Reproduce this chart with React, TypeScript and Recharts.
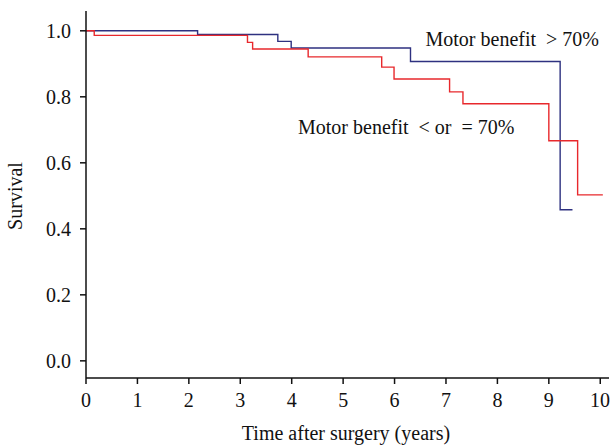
import { LineChart, Line, XAxis, YAxis, Customized } from "recharts";

// survival steps (time in years, survival)
const highTimes = [0, 2.17, 3.73, 3.99, 6.31, 9.22, 9.46];
const highSurv = [1.0, 0.989, 0.968, 0.948, 0.907, 0.458, 0.458];

const lowTimes = [0, 0.16, 3.14, 3.24, 4.32, 5.75, 5.99, 7.07, 7.33, 9.0, 9.56, 10.05];
const lowSurv = [1.0, 0.986, 0.965, 0.945, 0.921, 0.89, 0.854, 0.815, 0.779, 0.667, 0.503, 0.503];

const xTicks = [0, 1, 2, 3, 4, 5, 6, 7, 8, 9, 10];
const yTicks = [0, 0.2, 0.4, 0.6, 0.8, 1.0];

const highData = highTimes.map((t, i) => ({ t, s: highSurv[i] }));
const lowData = lowTimes.map((t, i) => ({ t, s: lowSurv[i] }));

const FONT = "'Liberation Serif', 'DejaVu Serif', serif";
const BLUE = "#2e3180";
const RED = "#e8282c";

const Notes = () => (
  <g fontFamily={FONT} fontSize={20} fill="#111">
    <text x={599} y={46} textAnchor="end">
      Motor benefit {"\u00a0"}&gt; 70%
    </text>
    <text x={298} y={134}>
      Motor benefit {"\u00a0"}&lt; or {"\u00a0"}= 70%
    </text>
    <text x={22} y={196} textAnchor="middle" transform="rotate(-90 22 196)">
      Survival
    </text>
    <text x={346} y={440} textAnchor="middle">
      Time after surgery (years)
    </text>
  </g>
);

export default function App() {
  return (
    <div style={{ position: "absolute", left: 0, top: 0, background: "#fff" }}>
      <LineChart
        width={610}
        height={446}
        margin={{ top: 11, right: 1, bottom: 0, left: 0 }}
      >
        <XAxis
          xAxisId="b"
          type="number"
          dataKey="t"
          domain={[0, 10.17]}
          ticks={xTicks}
          allowDataOverflow
          stroke="#111"
          strokeWidth={1.5}
          tickSize={6}
          tickMargin={9}
          tick={{ fill: "#111", fontFamily: FONT, fontSize: 20 }}
          height={68}
        />
        <XAxis
          xAxisId="t"
          orientation="top"
          type="number"
          dataKey="t"
          domain={[0, 10.17]}
          tick={false}
          tickLine={false}
          stroke="#111"
          strokeWidth={1.5}
          height={0}
        />
        <YAxis
          yAxisId="l"
          type="number"
          domain={[-0.052, 1.06]}
          ticks={yTicks}
          allowDataOverflow
          stroke="#111"
          strokeWidth={1.5}
          tickSize={6}
          tickMargin={9}
          tickFormatter={(v: number) => v.toFixed(1)}
          tick={{ fill: "#111", fontFamily: FONT, fontSize: 20 }}
          width={86}
        />
        <YAxis
          yAxisId="r"
          orientation="right"
          type="number"
          domain={[-0.052, 1.06]}
          tick={false}
          tickLine={false}
          stroke="#111"
          strokeWidth={1.5}
          width={0}
        />
        <Line
          xAxisId="b"
          yAxisId="l"
          data={highData}
          dataKey="s"
          type="stepAfter"
          stroke={BLUE}
          strokeWidth={1.4}
          dot={false}
          isAnimationActive={false}
        />
        <Line
          xAxisId="b"
          yAxisId="l"
          data={lowData}
          dataKey="s"
          type="stepAfter"
          stroke={RED}
          strokeWidth={1.4}
          dot={false}
          isAnimationActive={false}
        />
        <Customized component={Notes} />
      </LineChart>
    </div>
  );
}
